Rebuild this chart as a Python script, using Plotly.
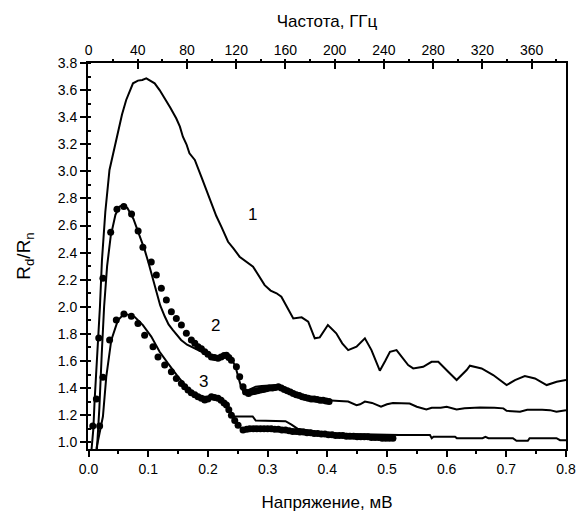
import plotly.graph_objects as go

# Curve 1 (line)
c1_x = [0.005, 0.008, 0.01, 0.0129, 0.0157, 0.019, 0.0224, 0.028, 0.035, 0.0425, 0.049, 0.056,
        0.063, 0.0744, 0.0827, 0.09, 0.0967, 0.104, 0.1107, 0.119, 0.1275, 0.137, 0.147, 0.153,
        0.158, 0.164, 0.169, 0.178, 0.189, 0.197, 0.206, 0.214, 0.2226, 0.2337, 0.243, 0.253,
        0.2756, 0.285, 0.295, 0.305, 0.315, 0.323, 0.333, 0.343, 0.357, 0.368, 0.379, 0.3874,
        0.401, 0.415, 0.425, 0.435, 0.449, 0.463, 0.474, 0.481, 0.488, 0.497, 0.505, 0.516,
        0.527, 0.5355, 0.544, 0.5607, 0.5747, 0.586, 0.6026, 0.6167, 0.6335, 0.639, 0.6586,
        0.678, 0.7005, 0.7145, 0.731, 0.748, 0.7676, 0.7844, 0.8]
c1_y = [0.95, 1.1, 1.3, 1.5, 1.7, 2.0, 2.345, 2.7, 3.01, 3.157, 3.28, 3.42,
        3.527, 3.65, 3.67, 3.675, 3.687, 3.67, 3.65, 3.6, 3.54, 3.47, 3.39, 3.33,
        3.256, 3.2, 3.133, 3.084, 2.96, 2.87, 2.764, 2.67, 2.59, 2.48, 2.43, 2.37,
        2.296, 2.23, 2.16, 2.12, 2.1, 2.074, 1.99, 1.914, 1.922, 1.89, 1.767, 1.774,
        1.865, 1.804, 1.73, 1.68, 1.705, 1.767, 1.68, 1.6, 1.528, 1.6, 1.668, 1.68,
        1.62, 1.57, 1.545, 1.557, 1.594, 1.594, 1.52, 1.459, 1.533, 1.565, 1.545,
        1.496, 1.422, 1.459, 1.488, 1.471, 1.422, 1.446, 1.459]

# Curve 2 (line)
c2_x = [0.014, 0.018, 0.022, 0.026, 0.031, 0.037, 0.045, 0.052, 0.058, 0.065, 0.075, 0.085,
        0.094, 0.1, 0.107, 0.114, 0.12, 0.1275, 0.134, 0.141, 0.148, 0.155, 0.165, 0.175,
        0.185, 0.195, 0.205, 0.215, 0.225, 0.232, 0.24, 0.246, 0.251, 0.256, 0.26, 0.27,
        0.28, 0.29, 0.30, 0.31, 0.32, 0.33, 0.34, 0.35, 0.365, 0.38, 0.40, 0.42, 0.435,
        0.449, 0.455, 0.463, 0.475, 0.49, 0.50, 0.51, 0.525, 0.538, 0.55, 0.566, 0.575,
        0.59, 0.6, 0.6167, 0.63, 0.656, 0.68, 0.695, 0.7005, 0.723, 0.735, 0.745, 0.76,
        0.773, 0.784, 0.8]
c2_y = [0.95, 1.25, 1.65, 2.0, 2.3, 2.52, 2.68, 2.74, 2.75, 2.73, 2.65, 2.53,
        2.42, 2.33, 2.22, 2.10, 2.01, 1.93, 1.87, 1.83, 1.79, 1.755, 1.72, 1.70,
        1.68, 1.66, 1.635, 1.625, 1.64, 1.645, 1.61, 1.56, 1.48, 1.40, 1.37, 1.39,
        1.41, 1.415, 1.42, 1.42, 1.42, 1.40, 1.37, 1.35, 1.33, 1.32, 1.31, 1.305, 1.30,
        1.274, 1.28, 1.30, 1.29, 1.262, 1.28, 1.29, 1.29, 1.286, 1.262, 1.242, 1.255,
        1.255, 1.262, 1.242, 1.25, 1.257, 1.255, 1.25, 1.232, 1.225, 1.24, 1.242, 1.24,
        1.237, 1.225, 1.237]

# Curve 2 (dots)
d2_x = [0.007, 0.013, 0.017, 0.024, 0.037, 0.0475, 0.059, 0.072, 0.083, 0.091, 0.105, 0.1135,
        0.1219, 0.1303, 0.1387, 0.147, 0.1555, 0.1638, 0.1722, 0.178, 0.1834, 0.189, 0.1946,
        0.200, 0.2058, 0.211, 0.2169, 0.222, 0.227, 0.231, 0.235, 0.2393, 0.2477, 0.2532,
        0.2588, 0.263, 0.268, 0.273, 0.278, 0.283, 0.288, 0.293, 0.298, 0.303, 0.308, 0.313,
        0.318, 0.323, 0.328, 0.333, 0.338, 0.343, 0.348, 0.353, 0.358, 0.363, 0.368, 0.373,
        0.378, 0.383, 0.388, 0.393, 0.398, 0.403]
d2_y = [1.12, 1.32, 1.77, 2.21, 2.55, 2.72, 2.74, 2.685, 2.56, 2.44, 2.33, 2.234,
        2.136, 2.05, 1.963, 1.914, 1.865, 1.804, 1.754, 1.73, 1.705, 1.69, 1.668,
        1.65, 1.63, 1.625, 1.62, 1.63, 1.64, 1.643, 1.625, 1.606, 1.557, 1.483,
        1.41, 1.37, 1.36, 1.37, 1.375, 1.38, 1.385, 1.39, 1.395, 1.40, 1.40, 1.405,
        1.41, 1.40, 1.39, 1.38, 1.37, 1.36, 1.35, 1.345, 1.335, 1.33, 1.325, 1.32,
        1.32, 1.315, 1.31, 1.31, 1.305, 1.30]

# Curve 3 (line)
c3_x = [0.013, 0.018, 0.024, 0.0296, 0.038, 0.049, 0.06, 0.077, 0.091, 0.105, 0.119, 0.133,
        0.15, 0.1666, 0.18, 0.189, 0.2, 0.2117, 0.2226, 0.2337, 0.242, 0.275, 0.28, 0.33,
        0.34, 0.35, 0.38, 0.41, 0.44, 0.47, 0.5, 0.52, 0.572, 0.575, 0.578, 0.614, 0.617,
        0.66, 0.665, 0.67, 0.711, 0.717, 0.736, 0.739, 0.784, 0.79, 0.8]
c3_y = [0.95, 1.05, 1.19, 1.483, 1.754, 1.90, 1.95, 1.926, 1.865, 1.78, 1.668, 1.582,
        1.483, 1.397, 1.35, 1.336, 1.335, 1.336, 1.31, 1.262, 1.19, 1.19, 1.16, 1.155,
        1.13, 1.10, 1.08, 1.065, 1.06, 1.06, 1.055, 1.053, 1.053, 1.03, 1.04, 1.04, 1.03,
        1.03, 1.04, 1.03, 1.03, 1.01, 1.01, 1.03, 1.03, 1.015, 1.015]

# Curve 3 (dots)
d3_x = [0.0185, 0.024, 0.0352, 0.0464, 0.0592, 0.0716, 0.0827, 0.0939, 0.1079, 0.1163, 0.1275,
        0.1387, 0.147, 0.1555, 0.161, 0.1666, 0.172, 0.178, 0.1834, 0.189, 0.1946, 0.2, 0.2058,
        0.211, 0.2169, 0.222, 0.227, 0.231, 0.235, 0.2393, 0.2449, 0.2505, 0.2588, 0.265, 0.27,
        0.276, 0.282, 0.288, 0.294, 0.30, 0.306, 0.312, 0.318, 0.324, 0.33, 0.336, 0.342, 0.348,
        0.354, 0.36, 0.366, 0.372, 0.378, 0.384, 0.39, 0.396, 0.402, 0.408, 0.414, 0.42, 0.426,
        0.432, 0.438, 0.444, 0.45, 0.456, 0.462, 0.468, 0.474, 0.48, 0.486, 0.492, 0.498, 0.504,
        0.51]
d3_y = [1.12, 1.48, 1.754, 1.902, 1.946, 1.931, 1.877, 1.79, 1.705, 1.63, 1.57,
        1.52, 1.471, 1.434, 1.41, 1.385, 1.365, 1.35, 1.336, 1.325, 1.311, 1.32, 1.336,
        1.33, 1.324, 1.31, 1.29, 1.274, 1.24, 1.2, 1.16, 1.126, 1.09, 1.095, 1.10,
        1.10, 1.10, 1.10, 1.10, 1.10, 1.10, 1.095, 1.095, 1.09, 1.09, 1.085, 1.08, 1.08,
        1.075, 1.075, 1.07, 1.07, 1.065, 1.065, 1.06, 1.06, 1.055, 1.055, 1.05, 1.05, 1.05,
        1.045, 1.045, 1.045, 1.04, 1.04, 1.04, 1.04, 1.035, 1.035, 1.035, 1.03, 1.03, 1.03,
        1.03]

labels = ["1", "2", "3"]
label_x = [0.275, 0.213, 0.193]
label_y = [2.68, 1.86, 1.45]

GHZ_PER_MV = 485.0
X_MIN, X_MAX = -0.001, 0.8

FONT = "Liberation Sans, Arial, sans-serif"
fig = go.Figure()

line_style = dict(color="black", width=2)
for xs, ys in [(c1_x, c1_y), (c2_x, c2_y), (c3_x, c3_y)]:
    fig.add_trace(go.Scatter(x=xs, y=ys, mode="lines", line=line_style, showlegend=False,
                             hoverinfo="skip"))
for xs, ys in [(d2_x, d2_y), (d3_x, d3_y)]:
    fig.add_trace(go.Scatter(x=xs, y=ys, mode="markers",
                             marker=dict(symbol="circle", size=7, color="black"),
                             showlegend=False, hoverinfo="skip"))

# invisible trace to activate top axis
fig.add_trace(go.Scatter(x=[X_MIN * GHZ_PER_MV, X_MAX * GHZ_PER_MV], y=[1.0, 1.0], xaxis="x2",
                         mode="lines", line=dict(width=0), opacity=0, showlegend=False,
                         hoverinfo="skip"))

for t, lx, ly in zip(labels, label_x, label_y):
    fig.add_annotation(x=lx, y=ly, text=t, showarrow=False,
                       font=dict(family=FONT, size=17, color="black"))

fig.update_layout(
    width=577, height=518, autosize=False,
    margin=dict(l=88, r=11, t=63, b=69, autoexpand=False),
    paper_bgcolor="white", plot_bgcolor="white",
    font=dict(family=FONT, color="black", size=14),
    xaxis=dict(
        range=[X_MIN, X_MAX], dtick=0.1, tick0=0, tickformat=".1f", automargin=False,
        showgrid=False, zeroline=False, showline=True, linecolor="black", linewidth=2,
        ticks="outside", ticklen=6, tickwidth=1.5, tickcolor="black",
        minor=dict(dtick=0.05, ticks="outside", ticklen=3, tickwidth=1.5, tickcolor="black"),
        tickfont=dict(size=14, family=FONT),
        title=dict(text="Напряжение, мВ", font=dict(size=17, family=FONT), standoff=20),
    ),
    xaxis2=dict(
        overlaying="x", side="top", anchor="y", automargin=False,
        range=[X_MIN * GHZ_PER_MV, X_MAX * GHZ_PER_MV], dtick=40, tick0=0,
        showgrid=False, zeroline=False, showline=True, linecolor="black", linewidth=2,
        ticks="inside", ticklen=6, tickwidth=1.5, tickcolor="black",
        minor=dict(dtick=20, ticks="outside", ticklen=2, tickwidth=1.5, tickcolor="black"),
        tickfont=dict(size=14, family=FONT),
        title=dict(text="Частота, ГГц", font=dict(size=17, family=FONT), standoff=10),
    ),
    yaxis=dict(
        range=[0.95, 3.8], dtick=0.2, tick0=1.0, tickformat=".1f", automargin=False,
        showgrid=False, zeroline=False, showline=True, linecolor="black", linewidth=2,
        mirror=True,
        ticks="outside", ticklen=6, tickwidth=1.5, tickcolor="black",
        minor=dict(dtick=0.1, ticks="inside", ticklen=3, tickwidth=1.5, tickcolor="black"),
        tickfont=dict(size=14, family=FONT),
        title=dict(text="R<sub>d</sub>/R<sub>n</sub>", font=dict(size=19, family=FONT), standoff=22),
    ),
)

fig.write_html("out.html")
